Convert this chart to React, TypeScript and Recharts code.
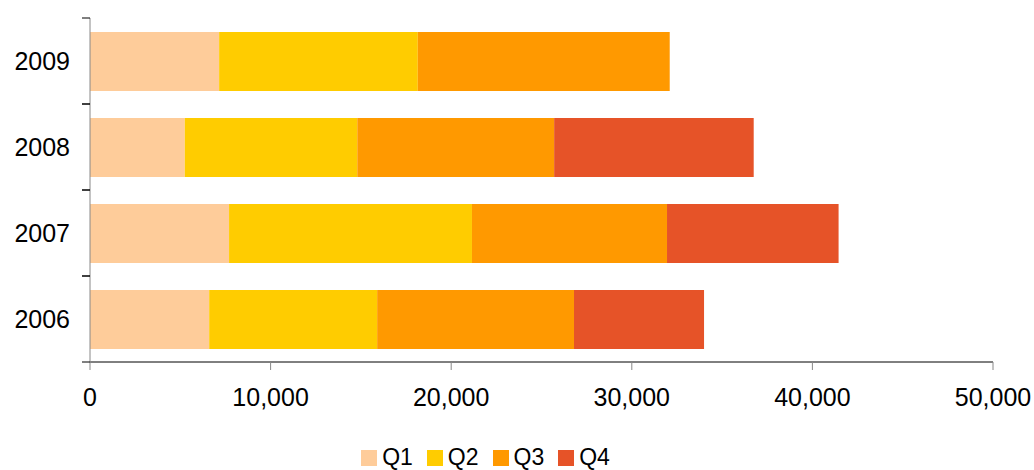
import { BarChart, Bar, XAxis, YAxis, Legend } from 'recharts';

const years = ['2009', '2008', '2007', '2006'];
const q1 = [7150, 5250, 7700, 6600];
const q2 = [11000, 9550, 13450, 9300];
const q3 = [13950, 10900, 10800, 10900];
const q4 = [0, 11050, 9500, 7200];
const xTicks = [0, 10000, 20000, 30000, 40000, 50000];

const series = [
  { key: 'Q1', color: '#FECC9A' },
  { key: 'Q2', color: '#FFCC00' },
  { key: 'Q3', color: '#FF9900' },
  { key: 'Q4', color: '#E65328' },
];

const chartData = years.map((year, i) => ({
  year,
  Q1: q1[i],
  Q2: q2[i],
  Q3: q3[i],
  Q4: q4[i],
}));

const font = '"Liberation Sans", Arial, sans-serif';

// category label plus tick marks on the band edges (not centred)
function YearTick(props: any) {
  const { x, y, payload } = props;
  const half = payload && payload.offset ? payload.offset : 43;
  const axisX = x + 12 + 8;
  return (
    <g>
      <line x1={axisX - 8} x2={axisX} y1={y - half} y2={y - half} stroke="#000" />
      <line x1={axisX - 8} x2={axisX} y1={y + half} y2={y + half} stroke="#000" />
      <text x={x} y={y} dy="0.355em" textAnchor="end" fill="#000" fontSize={25} fontFamily={font}>
        {payload.value}
      </text>
    </g>
  );
}

function LegendContent() {
  return (
    <div
      style={{
        display: 'flex',
        justifyContent: 'center',
        alignItems: 'center',
        height: 26,
        fontFamily: font,
        fontSize: 23,
        color: '#000',
        marginLeft: -22,
      }}
    >
      {series.map((s) => (
        <div key={s.key} style={{ display: 'flex', alignItems: 'center', margin: '0 7px' }}>
          <span style={{ width: 16, height: 16, background: s.color, marginRight: 5, display: 'inline-block', position: 'relative', top: 1 }} />
          <span>{s.key}</span>
        </div>
      ))}
    </div>
  );
}

export default function App() {
  return (
    <div style={{ position: 'absolute', left: 0, top: 0, width: 1034, height: 470, background: '#fff' }}>
      <BarChart
        width={1034}
        height={470}
        data={chartData}
        layout="vertical"
        margin={{ top: 18, right: 41, left: 0, bottom: 0 }}
        barSize={59}
      >
        <XAxis
          type="number"
          domain={[0, 50000]}
          ticks={xTicks}
          tickFormatter={(v) => Number(v).toLocaleString('en-US')}
          height={82}
          tickMargin={18}
          tickSize={8}
          stroke="#000"
          tickLine={{ stroke: '#888' }}
          tick={{ fill: '#000', fontSize: 25, fontFamily: font }}
        />
        <YAxis
          type="category"
          dataKey="year"
          width={90}
          tickSize={8}
          tickMargin={12}
          stroke="#888"
          tickLine={false}
          tick={<YearTick />}
        />
        <Legend verticalAlign="bottom" content={<LegendContent />} />
        {series.map((s) => (
          <Bar key={s.key} dataKey={s.key} stackId="a" fill={s.color} isAnimationActive={false} />
        ))}
      </BarChart>
    </div>
  );
}
